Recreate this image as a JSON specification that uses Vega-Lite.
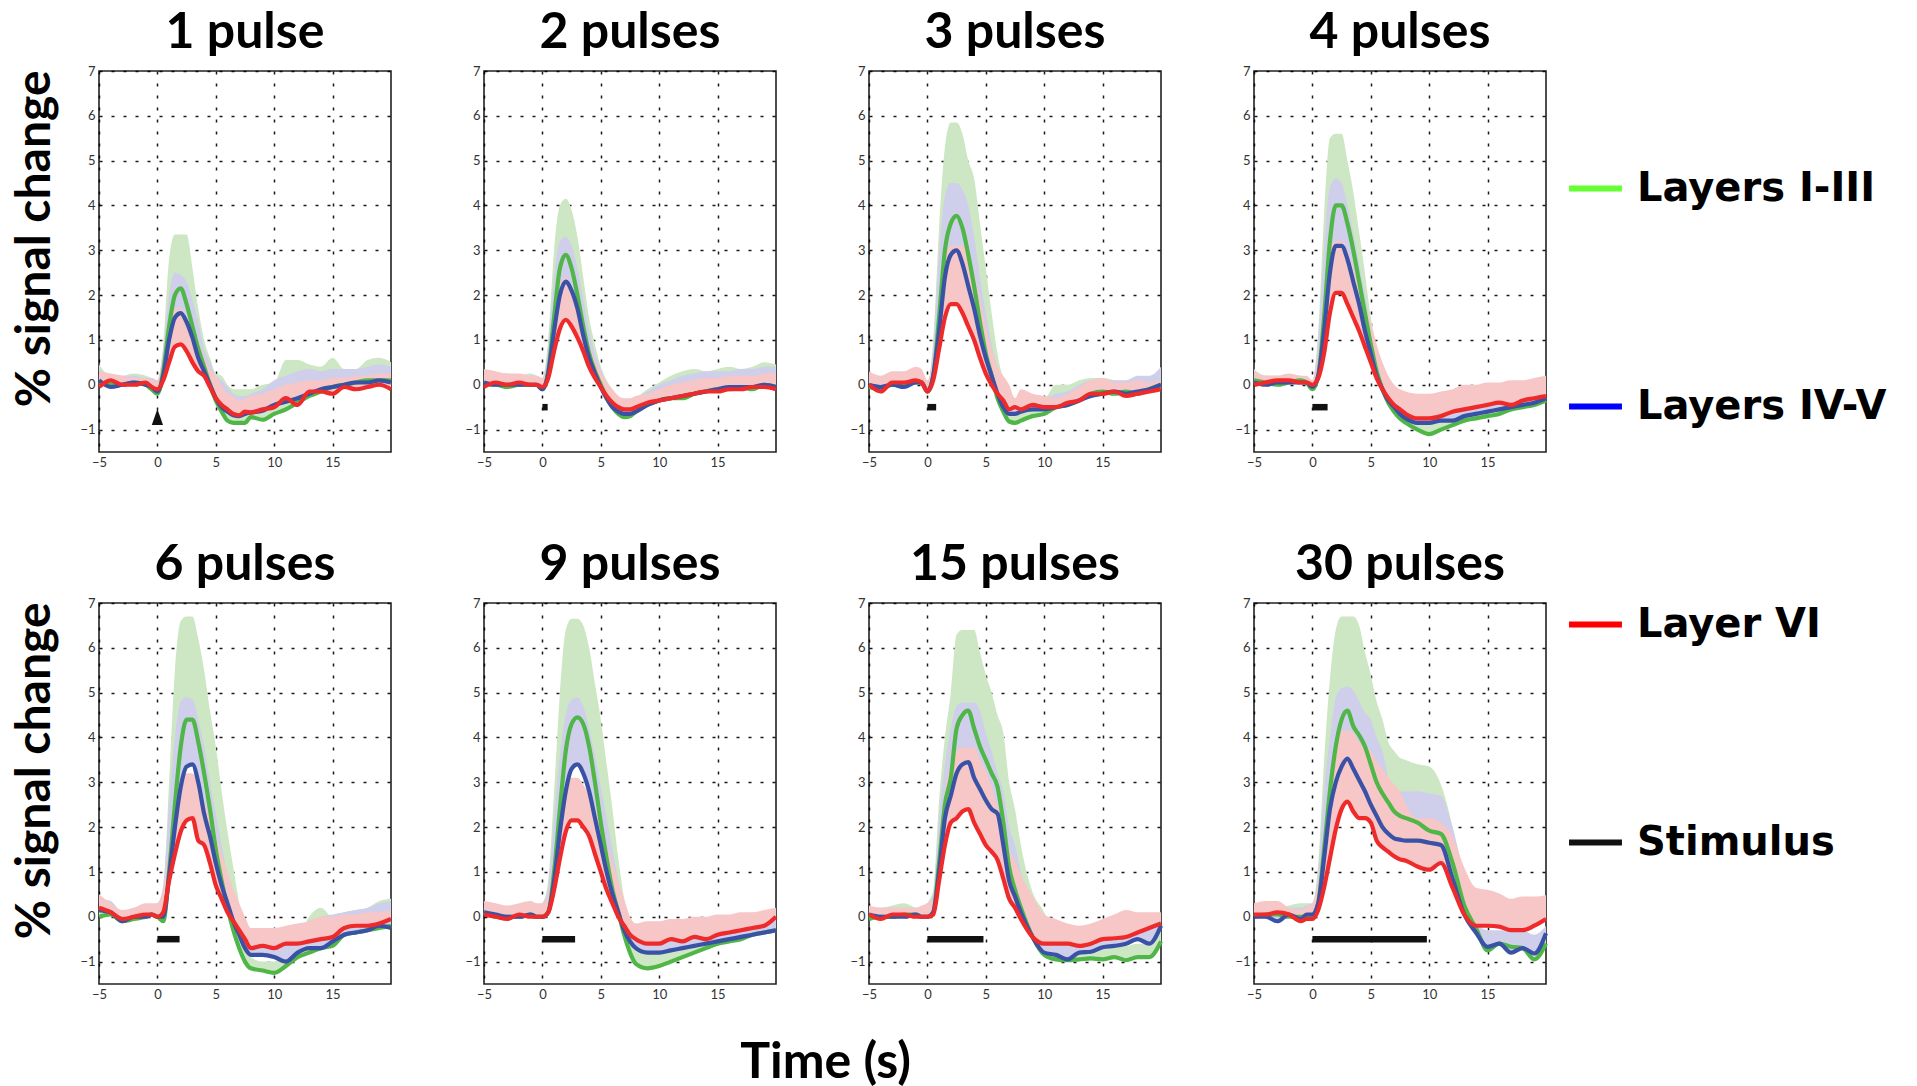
{
  "$schema": "https://vega.github.io/schema/vega-lite/v6.json",
  "background": "white",
  "padding": {"left": 12, "top": 8, "right": 0, "bottom": 0},
  "title": {"text": "Time (s)", "orient": "bottom", "anchor": "middle", "font": "Lato", "fontSize": 50, "fontWeight": "bold", "color": "black", "offset": 36, "dx": -124},
  "datasets": {
    "curves": [
      {"p":"1 pulse","t":-5,"g":0.05,"b":0.1,"r":-0.05,"gh":0.45,"bh":0.35,"rh":0.3},
      {"p":"1 pulse","t":-4,"g":0.0,"b":-0.05,"r":0.1,"gh":0.2,"bh":0.2,"rh":0.25},
      {"p":"1 pulse","t":-3,"g":0.0,"b":0.0,"r":0.0,"gh":0.2,"bh":0.2,"rh":0.2},
      {"p":"1 pulse","t":-2,"g":0.05,"b":0.05,"r":0.0,"gh":0.25,"bh":0.2,"rh":0.15},
      {"p":"1 pulse","t":-1,"g":0.0,"b":0.0,"r":0.05,"gh":0.2,"bh":0.15,"rh":0.15},
      {"p":"1 pulse","t":-0.5,"g":-0.1,"b":-0.05,"r":-0.05,"gh":0.15,"bh":0.15,"rh":0.1},
      {"p":"1 pulse","t":0,"g":-0.2,"b":-0.15,"r":-0.1,"gh":0.1,"bh":0.1,"rh":0.1},
      {"p":"1 pulse","t":0.5,"g":0.3,"b":0.2,"r":0.1,"gh":0.9,"bh":0.8,"rh":0.6},
      {"p":"1 pulse","t":1,"g":1.3,"b":1.0,"r":0.5,"gh":2.8,"bh":2.0,"rh":1.3},
      {"p":"1 pulse","t":1.5,"g":2.0,"b":1.5,"r":0.85,"gh":3.35,"bh":2.5,"rh":1.7},
      {"p":"1 pulse","t":2,"g":2.15,"b":1.6,"r":0.9,"gh":3.35,"bh":2.45,"rh":1.7},
      {"p":"1 pulse","t":2.5,"g":1.8,"b":1.4,"r":0.75,"gh":3.35,"bh":2.3,"rh":1.5},
      {"p":"1 pulse","t":3,"g":1.3,"b":1.05,"r":0.5,"gh":2.6,"bh":1.9,"rh":1.2},
      {"p":"1 pulse","t":3.5,"g":0.8,"b":0.6,"r":0.3,"gh":1.7,"bh":1.4,"rh":0.95},
      {"p":"1 pulse","t":4,"g":0.4,"b":0.3,"r":0.2,"gh":1.0,"bh":0.8,"rh":0.6},
      {"p":"1 pulse","t":4.5,"g":0.0,"b":0.0,"r":-0.05,"gh":0.6,"bh":0.5,"rh":0.35},
      {"p":"1 pulse","t":5,"g":-0.35,"b":-0.3,"r":-0.3,"gh":0.25,"bh":0.2,"rh":0.2},
      {"p":"1 pulse","t":5.5,"g":-0.6,"b":-0.5,"r":-0.45,"gh":0.2,"bh":0.1,"rh":0.0},
      {"p":"1 pulse","t":6,"g":-0.8,"b":-0.6,"r":-0.55,"gh":0.0,"bh":-0.05,"rh":-0.2},
      {"p":"1 pulse","t":6.5,"g":-0.85,"b":-0.68,"r":-0.65,"gh":-0.1,"bh":-0.2,"rh":-0.25},
      {"p":"1 pulse","t":7,"g":-0.85,"b":-0.7,"r":-0.68,"gh":-0.1,"bh":-0.25,"rh":-0.35},
      {"p":"1 pulse","t":7.5,"g":-0.85,"b":-0.65,"r":-0.6,"gh":-0.1,"bh":-0.25,"rh":-0.3},
      {"p":"1 pulse","t":8,"g":-0.72,"b":-0.62,"r":-0.62,"gh":-0.1,"bh":-0.2,"rh":-0.25},
      {"p":"1 pulse","t":9,"g":-0.78,"b":-0.58,"r":-0.55,"gh":0.0,"bh":-0.1,"rh":-0.2},
      {"p":"1 pulse","t":10,"g":-0.65,"b":-0.45,"r":-0.5,"gh":0.05,"bh":0.1,"rh":-0.1},
      {"p":"1 pulse","t":11,"g":-0.55,"b":-0.38,"r":-0.3,"gh":0.55,"bh":0.2,"rh":0.0},
      {"p":"1 pulse","t":12,"g":-0.4,"b":-0.3,"r":-0.45,"gh":0.55,"bh":0.3,"rh":0.05},
      {"p":"1 pulse","t":13,"g":-0.25,"b":-0.2,"r":-0.15,"gh":0.45,"bh":0.35,"rh":0.1},
      {"p":"1 pulse","t":14,"g":-0.15,"b":-0.1,"r":-0.15,"gh":0.4,"bh":0.3,"rh":0.1},
      {"p":"1 pulse","t":15,"g":-0.05,"b":-0.05,"r":-0.2,"gh":0.6,"bh":0.35,"rh":0.15},
      {"p":"1 pulse","t":16,"g":0.0,"b":0.0,"r":-0.05,"gh":0.35,"bh":0.35,"rh":0.15},
      {"p":"1 pulse","t":17,"g":0.05,"b":0.05,"r":-0.1,"gh":0.35,"bh":0.35,"rh":0.2},
      {"p":"1 pulse","t":18,"g":0.1,"b":0.05,"r":-0.05,"gh":0.55,"bh":0.4,"rh":0.2},
      {"p":"1 pulse","t":19,"g":0.1,"b":0.1,"r":0.0,"gh":0.6,"bh":0.45,"rh":0.25},
      {"p":"1 pulse","t":20,"g":0.1,"b":0.05,"r":-0.1,"gh":0.5,"bh":0.4,"rh":0.25},

      {"p":"2 pulses","t":-5,"g":0.0,"b":0.05,"r":-0.05,"gh":0.3,"bh":0.3,"rh":0.35},
      {"p":"2 pulses","t":-4,"g":0.0,"b":0.0,"r":0.05,"gh":0.25,"bh":0.25,"rh":0.3},
      {"p":"2 pulses","t":-3,"g":-0.05,"b":0.0,"r":0.0,"gh":0.2,"bh":0.25,"rh":0.25},
      {"p":"2 pulses","t":-2,"g":0.0,"b":0.0,"r":0.05,"gh":0.2,"bh":0.2,"rh":0.25},
      {"p":"2 pulses","t":-1,"g":0.0,"b":0.0,"r":0.0,"gh":0.25,"bh":0.2,"rh":0.2},
      {"p":"2 pulses","t":-0.5,"g":0.0,"b":0.0,"r":0.0,"gh":0.2,"bh":0.2,"rh":0.2},
      {"p":"2 pulses","t":0,"g":-0.1,"b":-0.1,"r":-0.05,"gh":0.15,"bh":0.15,"rh":0.15},
      {"p":"2 pulses","t":0.5,"g":0.3,"b":0.25,"r":0.15,"gh":1.0,"bh":0.9,"rh":0.6},
      {"p":"2 pulses","t":1,"g":1.5,"b":1.2,"r":0.75,"gh":3.0,"bh":2.4,"rh":1.6},
      {"p":"2 pulses","t":1.5,"g":2.6,"b":2.0,"r":1.25,"gh":4.0,"bh":3.2,"rh":2.2},
      {"p":"2 pulses","t":2,"g":2.9,"b":2.3,"r":1.45,"gh":4.15,"bh":3.3,"rh":2.4},
      {"p":"2 pulses","t":2.5,"g":2.6,"b":2.1,"r":1.3,"gh":3.9,"bh":3.1,"rh":2.2},
      {"p":"2 pulses","t":3,"g":2.0,"b":1.7,"r":1.05,"gh":3.3,"bh":2.6,"rh":1.8},
      {"p":"2 pulses","t":3.5,"g":1.3,"b":1.1,"r":0.75,"gh":2.4,"bh":1.9,"rh":1.4},
      {"p":"2 pulses","t":4,"g":0.7,"b":0.6,"r":0.4,"gh":1.5,"bh":1.2,"rh":0.9},
      {"p":"2 pulses","t":4.5,"g":0.3,"b":0.25,"r":0.15,"gh":0.9,"bh":0.7,"rh":0.55},
      {"p":"2 pulses","t":5,"g":0.0,"b":-0.05,"r":-0.05,"gh":0.4,"bh":0.35,"rh":0.3},
      {"p":"2 pulses","t":5.5,"g":-0.3,"b":-0.3,"r":-0.25,"gh":0.1,"bh":0.05,"rh":0.05},
      {"p":"2 pulses","t":6,"g":-0.5,"b":-0.5,"r":-0.4,"gh":-0.1,"bh":-0.15,"rh":-0.1},
      {"p":"2 pulses","t":6.5,"g":-0.65,"b":-0.6,"r":-0.5,"gh":-0.25,"bh":-0.3,"rh":-0.25},
      {"p":"2 pulses","t":7,"g":-0.72,"b":-0.65,"r":-0.55,"gh":-0.35,"bh":-0.35,"rh":-0.3},
      {"p":"2 pulses","t":7.5,"g":-0.7,"b":-0.65,"r":-0.55,"gh":-0.4,"bh":-0.35,"rh":-0.3},
      {"p":"2 pulses","t":8,"g":-0.6,"b":-0.6,"r":-0.5,"gh":-0.3,"bh":-0.3,"rh":-0.25},
      {"p":"2 pulses","t":9,"g":-0.45,"b":-0.45,"r":-0.4,"gh":-0.1,"bh":-0.15,"rh":-0.2},
      {"p":"2 pulses","t":10,"g":-0.35,"b":-0.35,"r":-0.35,"gh":0.05,"bh":0.0,"rh":-0.1},
      {"p":"2 pulses","t":11,"g":-0.3,"b":-0.3,"r":-0.3,"gh":0.2,"bh":0.1,"rh":0.0},
      {"p":"2 pulses","t":12,"g":-0.3,"b":-0.25,"r":-0.25,"gh":0.3,"bh":0.2,"rh":0.05},
      {"p":"2 pulses","t":13,"g":-0.2,"b":-0.2,"r":-0.2,"gh":0.35,"bh":0.25,"rh":0.1},
      {"p":"2 pulses","t":14,"g":-0.15,"b":-0.15,"r":-0.15,"gh":0.3,"bh":0.3,"rh":0.15},
      {"p":"2 pulses","t":15,"g":-0.1,"b":-0.1,"r":-0.15,"gh":0.35,"bh":0.3,"rh":0.15},
      {"p":"2 pulses","t":16,"g":-0.1,"b":-0.05,"r":-0.1,"gh":0.4,"bh":0.3,"rh":0.2},
      {"p":"2 pulses","t":17,"g":-0.05,"b":-0.05,"r":-0.1,"gh":0.35,"bh":0.35,"rh":0.2},
      {"p":"2 pulses","t":18,"g":-0.1,"b":-0.05,"r":-0.05,"gh":0.4,"bh":0.35,"rh":0.2},
      {"p":"2 pulses","t":19,"g":0.0,"b":0.0,"r":-0.05,"gh":0.5,"bh":0.4,"rh":0.25},
      {"p":"2 pulses","t":20,"g":-0.05,"b":-0.05,"r":-0.1,"gh":0.45,"bh":0.4,"rh":0.25},

      {"p":"3 pulses","t":-5,"g":-0.05,"b":0.0,"r":0.0,"gh":0.2,"bh":0.2,"rh":0.3},
      {"p":"3 pulses","t":-4,"g":-0.1,"b":-0.05,"r":-0.15,"gh":0.15,"bh":0.15,"rh":0.2},
      {"p":"3 pulses","t":-3,"g":0.0,"b":0.0,"r":0.05,"gh":0.2,"bh":0.2,"rh":0.3},
      {"p":"3 pulses","t":-2,"g":0.0,"b":-0.05,"r":0.05,"gh":0.2,"bh":0.2,"rh":0.3},
      {"p":"3 pulses","t":-1,"g":0.05,"b":0.05,"r":0.1,"gh":0.2,"bh":0.2,"rh":0.4},
      {"p":"3 pulses","t":-0.5,"g":0.05,"b":0.05,"r":0.05,"gh":0.15,"bh":0.15,"rh":0.35},
      {"p":"3 pulses","t":0,"g":-0.15,"b":-0.15,"r":-0.15,"gh":0.0,"bh":0.0,"rh":0.1},
      {"p":"3 pulses","t":0.5,"g":0.2,"b":0.2,"r":0.1,"gh":1.0,"bh":0.9,"rh":0.6},
      {"p":"3 pulses","t":1,"g":1.5,"b":1.2,"r":0.8,"gh":3.5,"bh":2.9,"rh":1.9},
      {"p":"3 pulses","t":1.5,"g":3.0,"b":2.4,"r":1.5,"gh":5.3,"bh":4.2,"rh":2.8},
      {"p":"3 pulses","t":2,"g":3.6,"b":2.9,"r":1.8,"gh":5.85,"bh":4.5,"rh":3.1},
      {"p":"3 pulses","t":2.5,"g":3.77,"b":3.0,"r":1.8,"gh":5.85,"bh":4.5,"rh":3.1},
      {"p":"3 pulses","t":3,"g":3.5,"b":2.7,"r":1.6,"gh":5.6,"bh":4.35,"rh":3.1},
      {"p":"3 pulses","t":3.5,"g":2.9,"b":2.2,"r":1.3,"gh":5.0,"bh":4.0,"rh":3.0},
      {"p":"3 pulses","t":4,"g":2.2,"b":1.7,"r":1.0,"gh":4.6,"bh":3.3,"rh":2.5},
      {"p":"3 pulses","t":4.5,"g":1.4,"b":1.1,"r":0.6,"gh":3.6,"bh":2.4,"rh":1.9},
      {"p":"3 pulses","t":5,"g":0.7,"b":0.6,"r":0.25,"gh":2.6,"bh":1.6,"rh":1.3},
      {"p":"3 pulses","t":5.5,"g":0.2,"b":0.2,"r":0.0,"gh":1.6,"bh":0.9,"rh":0.8},
      {"p":"3 pulses","t":6,"g":-0.3,"b":-0.2,"r":-0.2,"gh":0.7,"bh":0.4,"rh":0.4},
      {"p":"3 pulses","t":6.5,"g":-0.6,"b":-0.5,"r":-0.35,"gh":0.1,"bh":0.0,"rh":0.2},
      {"p":"3 pulses","t":7,"g":-0.82,"b":-0.65,"r":-0.55,"gh":-0.3,"bh":-0.2,"rh":0.0},
      {"p":"3 pulses","t":7.5,"g":-0.85,"b":-0.65,"r":-0.5,"gh":-0.4,"bh":-0.3,"rh":-0.3},
      {"p":"3 pulses","t":8,"g":-0.8,"b":-0.6,"r":-0.55,"gh":-0.35,"bh":-0.3,"rh":-0.1},
      {"p":"3 pulses","t":9,"g":-0.7,"b":-0.55,"r":-0.45,"gh":-0.3,"bh":-0.25,"rh":-0.2},
      {"p":"3 pulses","t":10,"g":-0.65,"b":-0.55,"r":-0.5,"gh":-0.3,"bh":-0.3,"rh":-0.25},
      {"p":"3 pulses","t":11,"g":-0.5,"b":-0.5,"r":-0.5,"gh":0.0,"bh":-0.2,"rh":-0.3},
      {"p":"3 pulses","t":12,"g":-0.45,"b":-0.45,"r":-0.4,"gh":0.0,"bh":-0.15,"rh":-0.2},
      {"p":"3 pulses","t":13,"g":-0.35,"b":-0.35,"r":-0.35,"gh":0.1,"bh":0.0,"rh":-0.05},
      {"p":"3 pulses","t":14,"g":-0.2,"b":-0.25,"r":-0.2,"gh":0.15,"bh":0.1,"rh":0.1},
      {"p":"3 pulses","t":15,"g":-0.15,"b":-0.2,"r":-0.2,"gh":0.15,"bh":0.1,"rh":0.15},
      {"p":"3 pulses","t":16,"g":-0.2,"b":-0.15,"r":-0.15,"gh":0.1,"bh":0.1,"rh":0.05},
      {"p":"3 pulses","t":17,"g":-0.15,"b":-0.2,"r":-0.25,"gh":0.05,"bh":0.1,"rh":0.05},
      {"p":"3 pulses","t":18,"g":-0.2,"b":-0.15,"r":-0.2,"gh":0.05,"bh":0.2,"rh":0.1},
      {"p":"3 pulses","t":19,"g":-0.1,"b":-0.1,"r":-0.15,"gh":0.05,"bh":0.2,"rh":0.05},
      {"p":"3 pulses","t":20,"g":0.0,"b":0.0,"r":-0.1,"gh":0.15,"bh":0.4,"rh":0.1},

      {"p":"4 pulses","t":-5,"g":0.1,"b":0.05,"r":0.0,"gh":0.35,"bh":0.3,"rh":0.3},
      {"p":"4 pulses","t":-4,"g":0.05,"b":0.0,"r":0.05,"gh":0.2,"bh":0.2,"rh":0.2},
      {"p":"4 pulses","t":-3,"g":0.0,"b":0.05,"r":0.1,"gh":0.2,"bh":0.2,"rh":0.2},
      {"p":"4 pulses","t":-2,"g":0.05,"b":0.05,"r":0.1,"gh":0.2,"bh":0.2,"rh":0.25},
      {"p":"4 pulses","t":-1,"g":0.1,"b":0.05,"r":0.05,"gh":0.2,"bh":0.2,"rh":0.2},
      {"p":"4 pulses","t":-0.5,"g":0.05,"b":0.05,"r":0.05,"gh":0.15,"bh":0.15,"rh":0.2},
      {"p":"4 pulses","t":0,"g":-0.1,"b":-0.05,"r":0.0,"gh":0.1,"bh":0.1,"rh":0.1},
      {"p":"4 pulses","t":0.5,"g":0.2,"b":0.2,"r":0.15,"gh":1.2,"bh":1.0,"rh":0.7},
      {"p":"4 pulses","t":1,"g":1.5,"b":1.2,"r":0.7,"gh":3.8,"bh":3.0,"rh":2.0},
      {"p":"4 pulses","t":1.5,"g":3.2,"b":2.5,"r":1.6,"gh":5.5,"bh":4.4,"rh":3.0},
      {"p":"4 pulses","t":2,"g":4.0,"b":3.1,"r":2.05,"gh":5.6,"bh":4.6,"rh":3.2},
      {"p":"4 pulses","t":2.5,"g":4.0,"b":3.1,"r":2.05,"gh":5.6,"bh":4.5,"rh":3.2},
      {"p":"4 pulses","t":3,"g":3.6,"b":2.8,"r":1.8,"gh":5.0,"bh":4.0,"rh":3.0},
      {"p":"4 pulses","t":3.5,"g":3.0,"b":2.3,"r":1.5,"gh":4.3,"bh":3.4,"rh":2.6},
      {"p":"4 pulses","t":4,"g":2.3,"b":1.8,"r":1.2,"gh":3.4,"bh":2.7,"rh":2.2},
      {"p":"4 pulses","t":4.5,"g":1.6,"b":1.2,"r":0.85,"gh":2.5,"bh":2.0,"rh":1.8},
      {"p":"4 pulses","t":5,"g":0.9,"b":0.7,"r":0.5,"gh":1.5,"bh":1.3,"rh":1.4},
      {"p":"4 pulses","t":5.5,"g":0.3,"b":0.2,"r":0.15,"gh":0.8,"bh":0.7,"rh":0.9},
      {"p":"4 pulses","t":6,"g":-0.1,"b":-0.1,"r":-0.1,"gh":0.3,"bh":0.2,"rh":0.5},
      {"p":"4 pulses","t":6.5,"g":-0.4,"b":-0.35,"r":-0.3,"gh":0.0,"bh":-0.1,"rh":0.2},
      {"p":"4 pulses","t":7,"g":-0.6,"b":-0.5,"r":-0.45,"gh":-0.2,"bh":-0.25,"rh":0.0},
      {"p":"4 pulses","t":7.5,"g":-0.75,"b":-0.65,"r":-0.55,"gh":-0.35,"bh":-0.35,"rh":-0.1},
      {"p":"4 pulses","t":8,"g":-0.85,"b":-0.75,"r":-0.65,"gh":-0.5,"bh":-0.4,"rh":-0.15},
      {"p":"4 pulses","t":9,"g":-1.0,"b":-0.85,"r":-0.75,"gh":-0.6,"bh":-0.45,"rh":-0.2},
      {"p":"4 pulses","t":10,"g":-1.1,"b":-0.85,"r":-0.75,"gh":-0.6,"bh":-0.45,"rh":-0.2},
      {"p":"4 pulses","t":11,"g":-1.0,"b":-0.8,"r":-0.7,"gh":-0.5,"bh":-0.4,"rh":-0.15},
      {"p":"4 pulses","t":12,"g":-0.9,"b":-0.8,"r":-0.6,"gh":-0.4,"bh":-0.3,"rh":-0.1},
      {"p":"4 pulses","t":13,"g":-0.8,"b":-0.7,"r":-0.55,"gh":-0.35,"bh":-0.25,"rh":0.0},
      {"p":"4 pulses","t":14,"g":-0.75,"b":-0.65,"r":-0.5,"gh":-0.25,"bh":-0.2,"rh":0.0},
      {"p":"4 pulses","t":15,"g":-0.7,"b":-0.6,"r":-0.45,"gh":-0.2,"bh":-0.15,"rh":0.05},
      {"p":"4 pulses","t":16,"g":-0.65,"b":-0.55,"r":-0.4,"gh":-0.2,"bh":-0.1,"rh":0.05},
      {"p":"4 pulses","t":17,"g":-0.55,"b":-0.5,"r":-0.45,"gh":-0.1,"bh":-0.05,"rh":0.1},
      {"p":"4 pulses","t":18,"g":-0.5,"b":-0.45,"r":-0.35,"gh":-0.05,"bh":0.0,"rh":0.1},
      {"p":"4 pulses","t":19,"g":-0.45,"b":-0.4,"r":-0.3,"gh":0.0,"bh":0.0,"rh":0.15},
      {"p":"4 pulses","t":20,"g":-0.35,"b":-0.3,"r":-0.25,"gh":0.05,"bh":0.05,"rh":0.2},

      {"p":"6 pulses","t":-5,"g":0.0,"b":0.15,"r":0.2,"gh":0.45,"bh":0.4,"rh":0.5},
      {"p":"6 pulses","t":-4,"g":0.05,"b":0.1,"r":0.1,"gh":0.3,"bh":0.35,"rh":0.3},
      {"p":"6 pulses","t":-3,"g":-0.1,"b":-0.1,"r":-0.05,"gh":0.1,"bh":0.1,"rh":0.15},
      {"p":"6 pulses","t":-2,"g":-0.05,"b":0.0,"r":0.0,"gh":0.2,"bh":0.15,"rh":0.2},
      {"p":"6 pulses","t":-1,"g":0.0,"b":0.0,"r":0.05,"gh":0.2,"bh":0.2,"rh":0.3},
      {"p":"6 pulses","t":-0.5,"g":0.05,"b":0.05,"r":0.05,"gh":0.25,"bh":0.25,"rh":0.3},
      {"p":"6 pulses","t":0,"g":0.0,"b":0.0,"r":0.0,"gh":0.3,"bh":0.3,"rh":0.3},
      {"p":"6 pulses","t":0.5,"g":-0.1,"b":0.0,"r":0.1,"gh":0.6,"bh":0.7,"rh":0.6},
      {"p":"6 pulses","t":1,"g":1.0,"b":0.9,"r":0.8,"gh":3.0,"bh":2.5,"rh":1.6},
      {"p":"6 pulses","t":1.5,"g":2.5,"b":2.0,"r":1.4,"gh":5.5,"bh":4.0,"rh":2.5},
      {"p":"6 pulses","t":2,"g":3.8,"b":2.9,"r":1.9,"gh":6.6,"bh":4.8,"rh":3.0},
      {"p":"6 pulses","t":2.5,"g":4.4,"b":3.35,"r":2.15,"gh":6.7,"bh":4.9,"rh":3.2},
      {"p":"6 pulses","t":3,"g":4.4,"b":3.4,"r":2.2,"gh":6.7,"bh":4.85,"rh":3.2},
      {"p":"6 pulses","t":3.5,"g":3.9,"b":3.0,"r":1.7,"gh":6.2,"bh":4.4,"rh":2.9},
      {"p":"6 pulses","t":4,"g":3.2,"b":2.3,"r":1.6,"gh":5.5,"bh":3.8,"rh":2.6},
      {"p":"6 pulses","t":4.5,"g":2.4,"b":1.8,"r":1.2,"gh":4.6,"bh":3.0,"rh":2.2},
      {"p":"6 pulses","t":5,"g":1.5,"b":1.2,"r":0.7,"gh":3.8,"bh":2.3,"rh":1.8},
      {"p":"6 pulses","t":5.5,"g":0.8,"b":0.7,"r":0.4,"gh":2.8,"bh":1.6,"rh":1.4},
      {"p":"6 pulses","t":6,"g":0.2,"b":0.3,"r":0.1,"gh":1.9,"bh":0.9,"rh":1.0},
      {"p":"6 pulses","t":6.5,"g":-0.3,"b":-0.1,"r":-0.1,"gh":1.1,"bh":0.4,"rh":0.6},
      {"p":"6 pulses","t":7,"g":-0.7,"b":-0.4,"r":-0.3,"gh":0.3,"bh":0.0,"rh":0.3},
      {"p":"6 pulses","t":7.5,"g":-1.0,"b":-0.7,"r":-0.5,"gh":-0.4,"bh":-0.3,"rh":0.0},
      {"p":"6 pulses","t":8,"g":-1.15,"b":-0.85,"r":-0.7,"gh":-0.9,"bh":-0.5,"rh":-0.25},
      {"p":"6 pulses","t":9,"g":-1.2,"b":-0.85,"r":-0.65,"gh":-1.0,"bh":-0.6,"rh":-0.25},
      {"p":"6 pulses","t":10,"g":-1.25,"b":-0.9,"r":-0.7,"gh":-1.0,"bh":-0.55,"rh":-0.25},
      {"p":"6 pulses","t":11,"g":-1.1,"b":-1.0,"r":-0.6,"gh":-0.8,"bh":-0.45,"rh":-0.2},
      {"p":"6 pulses","t":12,"g":-0.9,"b":-0.8,"r":-0.6,"gh":-0.5,"bh":-0.3,"rh":-0.15},
      {"p":"6 pulses","t":13,"g":-0.8,"b":-0.7,"r":-0.55,"gh":0.0,"bh":-0.1,"rh":-0.1},
      {"p":"6 pulses","t":14,"g":-0.7,"b":-0.7,"r":-0.5,"gh":0.2,"bh":0.0,"rh":0.0},
      {"p":"6 pulses","t":15,"g":-0.65,"b":-0.55,"r":-0.45,"gh":0.0,"bh":0.05,"rh":0.0},
      {"p":"6 pulses","t":16,"g":-0.4,"b":-0.4,"r":-0.25,"gh":0.1,"bh":0.1,"rh":0.05},
      {"p":"6 pulses","t":17,"g":-0.35,"b":-0.35,"r":-0.2,"gh":0.15,"bh":0.15,"rh":0.05},
      {"p":"6 pulses","t":18,"g":-0.3,"b":-0.3,"r":-0.2,"gh":0.2,"bh":0.2,"rh":0.1},
      {"p":"6 pulses","t":19,"g":-0.25,"b":-0.2,"r":-0.15,"gh":0.35,"bh":0.3,"rh":0.1},
      {"p":"6 pulses","t":20,"g":-0.2,"b":-0.25,"r":-0.05,"gh":0.4,"bh":0.35,"rh":0.15},

      {"p":"9 pulses","t":-5,"g":0.1,"b":0.1,"r":0.05,"gh":0.3,"bh":0.3,"rh":0.35},
      {"p":"9 pulses","t":-4,"g":0.0,"b":0.05,"r":0.0,"gh":0.2,"bh":0.25,"rh":0.3},
      {"p":"9 pulses","t":-3,"g":0.0,"b":0.0,"r":-0.05,"gh":0.15,"bh":0.2,"rh":0.25},
      {"p":"9 pulses","t":-2,"g":0.0,"b":0.0,"r":0.05,"gh":0.2,"bh":0.2,"rh":0.3},
      {"p":"9 pulses","t":-1,"g":0.05,"b":0.05,"r":0.0,"gh":0.25,"bh":0.25,"rh":0.35},
      {"p":"9 pulses","t":-0.5,"g":0.0,"b":0.0,"r":0.0,"gh":0.2,"bh":0.2,"rh":0.3},
      {"p":"9 pulses","t":0,"g":0.0,"b":0.0,"r":0.0,"gh":0.3,"bh":0.3,"rh":0.3},
      {"p":"9 pulses","t":0.5,"g":0.1,"b":0.1,"r":0.1,"gh":0.8,"bh":0.7,"rh":0.5},
      {"p":"9 pulses","t":1,"g":1.0,"b":0.8,"r":0.6,"gh":2.8,"bh":2.2,"rh":1.4},
      {"p":"9 pulses","t":1.5,"g":2.4,"b":1.9,"r":1.3,"gh":5.0,"bh":3.6,"rh":2.3},
      {"p":"9 pulses","t":2,"g":3.7,"b":2.8,"r":1.9,"gh":6.4,"bh":4.5,"rh":2.9},
      {"p":"9 pulses","t":2.5,"g":4.3,"b":3.3,"r":2.15,"gh":6.65,"bh":4.85,"rh":3.1},
      {"p":"9 pulses","t":3,"g":4.45,"b":3.4,"r":2.15,"gh":6.65,"bh":4.9,"rh":3.1},
      {"p":"9 pulses","t":3.5,"g":4.3,"b":3.2,"r":2.0,"gh":6.5,"bh":4.7,"rh":2.95},
      {"p":"9 pulses","t":4,"g":3.8,"b":2.8,"r":1.8,"gh":6.0,"bh":4.2,"rh":2.7},
      {"p":"9 pulses","t":4.5,"g":3.0,"b":2.2,"r":1.4,"gh":5.2,"bh":3.6,"rh":2.4},
      {"p":"9 pulses","t":5,"g":2.1,"b":1.6,"r":1.0,"gh":4.4,"bh":2.9,"rh":2.0},
      {"p":"9 pulses","t":5.5,"g":1.3,"b":1.0,"r":0.6,"gh":3.4,"bh":2.2,"rh":1.6},
      {"p":"9 pulses","t":6,"g":0.6,"b":0.5,"r":0.3,"gh":2.4,"bh":1.5,"rh":1.2},
      {"p":"9 pulses","t":6.5,"g":0.1,"b":0.1,"r":0.0,"gh":1.3,"bh":0.8,"rh":0.8},
      {"p":"9 pulses","t":7,"g":-0.4,"b":-0.3,"r":-0.2,"gh":0.4,"bh":0.2,"rh":0.4},
      {"p":"9 pulses","t":7.5,"g":-0.8,"b":-0.55,"r":-0.4,"gh":-0.2,"bh":-0.2,"rh":0.0},
      {"p":"9 pulses","t":8,"g":-1.05,"b":-0.7,"r":-0.5,"gh":-0.5,"bh":-0.35,"rh":-0.15},
      {"p":"9 pulses","t":9,"g":-1.15,"b":-0.8,"r":-0.6,"gh":-0.6,"bh":-0.4,"rh":-0.1},
      {"p":"9 pulses","t":10,"g":-1.1,"b":-0.8,"r":-0.6,"gh":-0.6,"bh":-0.4,"rh":-0.1},
      {"p":"9 pulses","t":11,"g":-1.0,"b":-0.75,"r":-0.5,"gh":-0.5,"bh":-0.35,"rh":-0.05},
      {"p":"9 pulses","t":12,"g":-0.9,"b":-0.7,"r":-0.55,"gh":-0.4,"bh":-0.3,"rh":-0.05},
      {"p":"9 pulses","t":13,"g":-0.8,"b":-0.65,"r":-0.45,"gh":-0.3,"bh":-0.25,"rh":0.0},
      {"p":"9 pulses","t":14,"g":-0.7,"b":-0.6,"r":-0.5,"gh":-0.2,"bh":-0.2,"rh":0.0},
      {"p":"9 pulses","t":15,"g":-0.6,"b":-0.55,"r":-0.4,"gh":-0.15,"bh":-0.15,"rh":0.05},
      {"p":"9 pulses","t":16,"g":-0.55,"b":-0.5,"r":-0.35,"gh":-0.1,"bh":-0.1,"rh":0.05},
      {"p":"9 pulses","t":17,"g":-0.5,"b":-0.45,"r":-0.3,"gh":-0.1,"bh":-0.1,"rh":0.1},
      {"p":"9 pulses","t":18,"g":-0.4,"b":-0.4,"r":-0.25,"gh":0.0,"bh":-0.05,"rh":0.1},
      {"p":"9 pulses","t":19,"g":-0.35,"b":-0.35,"r":-0.2,"gh":0.0,"bh":0.0,"rh":0.15},
      {"p":"9 pulses","t":20,"g":-0.3,"b":-0.3,"r":0.0,"gh":0.0,"bh":0.05,"rh":0.2},

      {"p":"15 pulses","t":-5,"g":-0.05,"b":0.05,"r":0.05,"gh":0.2,"bh":0.2,"rh":0.25},
      {"p":"15 pulses","t":-4,"g":0.0,"b":0.0,"r":-0.05,"gh":0.2,"bh":0.2,"rh":0.2},
      {"p":"15 pulses","t":-3,"g":0.0,"b":0.0,"r":0.05,"gh":0.25,"bh":0.2,"rh":0.2},
      {"p":"15 pulses","t":-2,"g":0.05,"b":0.0,"r":0.05,"gh":0.3,"bh":0.2,"rh":0.2},
      {"p":"15 pulses","t":-1,"g":0.05,"b":0.05,"r":0.0,"gh":0.2,"bh":0.2,"rh":0.2},
      {"p":"15 pulses","t":-0.5,"g":0.0,"b":0.0,"r":0.0,"gh":0.15,"bh":0.2,"rh":0.25},
      {"p":"15 pulses","t":0,"g":0.0,"b":0.0,"r":0.0,"gh":0.3,"bh":0.3,"rh":0.3},
      {"p":"15 pulses","t":0.5,"g":0.1,"b":0.1,"r":0.05,"gh":0.6,"bh":0.5,"rh":0.4},
      {"p":"15 pulses","t":1,"g":1.2,"b":1.0,"r":0.8,"gh":2.6,"bh":2.2,"rh":1.7},
      {"p":"15 pulses","t":1.5,"g":2.5,"b":2.2,"r":1.6,"gh":4.0,"bh":3.4,"rh":2.8},
      {"p":"15 pulses","t":2,"g":3.1,"b":2.7,"r":2.1,"gh":5.0,"bh":4.2,"rh":3.4},
      {"p":"15 pulses","t":2.5,"g":4.2,"b":3.2,"r":2.2,"gh":6.3,"bh":4.7,"rh":3.7},
      {"p":"15 pulses","t":3,"g":4.5,"b":3.4,"r":2.35,"gh":6.4,"bh":4.78,"rh":3.77},
      {"p":"15 pulses","t":3.5,"g":4.6,"b":3.45,"r":2.4,"gh":6.4,"bh":4.78,"rh":3.77},
      {"p":"15 pulses","t":4,"g":4.2,"b":3.1,"r":2.1,"gh":6.4,"bh":4.78,"rh":3.77},
      {"p":"15 pulses","t":4.5,"g":3.8,"b":2.85,"r":1.85,"gh":5.9,"bh":4.6,"rh":3.5},
      {"p":"15 pulses","t":5,"g":3.5,"b":2.6,"r":1.6,"gh":5.4,"bh":4.1,"rh":3.25},
      {"p":"15 pulses","t":5.5,"g":3.2,"b":2.4,"r":1.45,"gh":5.0,"bh":3.7,"rh":2.9},
      {"p":"15 pulses","t":6,"g":2.9,"b":2.3,"r":1.27,"gh":4.5,"bh":3.2,"rh":2.45},
      {"p":"15 pulses","t":6.5,"g":2.1,"b":1.6,"r":0.85,"gh":4.1,"bh":2.8,"rh":2.1},
      {"p":"15 pulses","t":7,"g":1.1,"b":0.8,"r":0.4,"gh":3.0,"bh":2.0,"rh":1.5},
      {"p":"15 pulses","t":7.5,"g":0.6,"b":0.45,"r":0.2,"gh":2.4,"bh":1.6,"rh":1.25},
      {"p":"15 pulses","t":8,"g":0.2,"b":0.1,"r":-0.05,"gh":1.6,"bh":1.0,"rh":0.95},
      {"p":"15 pulses","t":9,"g":-0.45,"b":-0.45,"r":-0.45,"gh":0.55,"bh":0.3,"rh":0.45},
      {"p":"15 pulses","t":10,"g":-0.85,"b":-0.8,"r":-0.6,"gh":0.1,"bh":-0.15,"rh":0.05},
      {"p":"15 pulses","t":11,"g":-0.95,"b":-0.85,"r":-0.6,"gh":-0.5,"bh":-0.4,"rh":-0.05},
      {"p":"15 pulses","t":12,"g":-0.97,"b":-0.95,"r":-0.6,"gh":-0.6,"bh":-0.3,"rh":-0.15},
      {"p":"15 pulses","t":13,"g":-0.95,"b":-0.8,"r":-0.65,"gh":-0.6,"bh":-0.3,"rh":-0.2},
      {"p":"15 pulses","t":14,"g":-0.93,"b":-0.78,"r":-0.6,"gh":-0.6,"bh":-0.3,"rh":-0.15},
      {"p":"15 pulses","t":15,"g":-0.95,"b":-0.68,"r":-0.5,"gh":-0.6,"bh":-0.3,"rh":-0.05},
      {"p":"15 pulses","t":16,"g":-0.9,"b":-0.65,"r":-0.48,"gh":-0.6,"bh":-0.25,"rh":0.05},
      {"p":"15 pulses","t":17,"g":-0.97,"b":-0.6,"r":-0.45,"gh":-0.65,"bh":-0.2,"rh":0.15},
      {"p":"15 pulses","t":18,"g":-0.9,"b":-0.5,"r":-0.35,"gh":-0.6,"bh":-0.15,"rh":0.1},
      {"p":"15 pulses","t":19,"g":-0.9,"b":-0.6,"r":-0.25,"gh":-0.6,"bh":-0.1,"rh":0.1},
      {"p":"15 pulses","t":20,"g":-0.55,"b":-0.2,"r":-0.15,"gh":-0.3,"bh":0.0,"rh":0.1},

      {"p":"30 pulses","t":-5,"g":0.0,"b":0.0,"r":0.05,"gh":0.25,"bh":0.2,"rh":0.3},
      {"p":"30 pulses","t":-4,"g":0.05,"b":0.0,"r":0.05,"gh":0.2,"bh":0.25,"rh":0.35},
      {"p":"30 pulses","t":-3,"g":0.05,"b":-0.1,"r":0.1,"gh":0.2,"bh":0.25,"rh":0.35},
      {"p":"30 pulses","t":-2,"g":0.0,"b":0.05,"r":0.05,"gh":0.25,"bh":0.2,"rh":0.2},
      {"p":"30 pulses","t":-1,"g":0.0,"b":-0.05,"r":-0.1,"gh":0.3,"bh":0.2,"rh":0.15},
      {"p":"30 pulses","t":-0.5,"g":0.0,"b":0.05,"r":-0.05,"gh":0.3,"bh":0.25,"rh":0.2},
      {"p":"30 pulses","t":0,"g":0.0,"b":0.05,"r":-0.05,"gh":0.3,"bh":0.3,"rh":0.3},
      {"p":"30 pulses","t":0.5,"g":0.3,"b":0.3,"r":0.15,"gh":1.2,"bh":1.0,"rh":0.8},
      {"p":"30 pulses","t":1,"g":1.5,"b":1.3,"r":0.65,"gh":3.5,"bh":2.8,"rh":1.9},
      {"p":"30 pulses","t":1.5,"g":2.8,"b":2.4,"r":1.3,"gh":5.3,"bh":4.0,"rh":2.9},
      {"p":"30 pulses","t":2,"g":3.8,"b":3.0,"r":1.95,"gh":6.4,"bh":4.9,"rh":3.7},
      {"p":"30 pulses","t":2.5,"g":4.4,"b":3.35,"r":2.4,"gh":6.7,"bh":5.1,"rh":4.15},
      {"p":"30 pulses","t":3,"g":4.6,"b":3.53,"r":2.57,"gh":6.7,"bh":5.13,"rh":4.15},
      {"p":"30 pulses","t":3.5,"g":4.25,"b":3.3,"r":2.35,"gh":6.7,"bh":5.05,"rh":4.1},
      {"p":"30 pulses","t":4,"g":4.05,"b":3.05,"r":2.2,"gh":6.5,"bh":4.8,"rh":3.9},
      {"p":"30 pulses","t":4.5,"g":3.8,"b":2.8,"r":2.2,"gh":5.9,"bh":4.55,"rh":3.75},
      {"p":"30 pulses","t":5,"g":3.4,"b":2.5,"r":2.1,"gh":5.4,"bh":4.4,"rh":3.7},
      {"p":"30 pulses","t":5.5,"g":3.0,"b":2.25,"r":1.7,"gh":4.8,"bh":4.0,"rh":3.45},
      {"p":"30 pulses","t":6,"g":2.75,"b":2.0,"r":1.55,"gh":4.4,"bh":3.7,"rh":3.3},
      {"p":"30 pulses","t":6.5,"g":2.55,"b":1.85,"r":1.45,"gh":3.9,"bh":3.1,"rh":3.1},
      {"p":"30 pulses","t":7,"g":2.35,"b":1.75,"r":1.35,"gh":3.7,"bh":2.8,"rh":2.95},
      {"p":"30 pulses","t":7.5,"g":2.25,"b":1.72,"r":1.28,"gh":3.55,"bh":2.8,"rh":2.8},
      {"p":"30 pulses","t":8,"g":2.2,"b":1.7,"r":1.25,"gh":3.5,"bh":2.8,"rh":2.5},
      {"p":"30 pulses","t":9,"g":2.1,"b":1.7,"r":1.12,"gh":3.4,"bh":2.8,"rh":2.2},
      {"p":"30 pulses","t":10,"g":1.92,"b":1.65,"r":1.05,"gh":3.35,"bh":2.75,"rh":2.2},
      {"p":"30 pulses","t":11,"g":1.85,"b":1.6,"r":1.2,"gh":2.95,"bh":2.7,"rh":2.1},
      {"p":"30 pulses","t":12,"g":1.2,"b":0.85,"r":0.65,"gh":2.0,"bh":2.0,"rh":1.8},
      {"p":"30 pulses","t":13,"g":0.25,"b":0.05,"r":0.05,"gh":0.6,"bh":0.9,"rh":1.1},
      {"p":"30 pulses","t":14,"g":-0.25,"b":-0.35,"r":-0.2,"gh":-0.1,"bh":-0.1,"rh":0.65},
      {"p":"30 pulses","t":15,"g":-0.75,"b":-0.67,"r":-0.2,"gh":-0.4,"bh":-0.3,"rh":0.6},
      {"p":"30 pulses","t":16,"g":-0.6,"b":-0.6,"r":-0.22,"gh":-0.4,"bh":-0.3,"rh":0.52},
      {"p":"30 pulses","t":17,"g":-0.67,"b":-0.8,"r":-0.3,"gh":-0.4,"bh":-0.3,"rh":0.4},
      {"p":"30 pulses","t":18,"g":-0.7,"b":-0.7,"r":-0.3,"gh":-0.45,"bh":-0.3,"rh":0.45},
      {"p":"30 pulses","t":19,"g":-0.95,"b":-0.82,"r":-0.2,"gh":-0.6,"bh":-0.4,"rh":0.45},
      {"p":"30 pulses","t":20,"g":-0.6,"b":-0.37,"r":-0.05,"gh":-0.3,"bh":-0.2,"rh":0.48},

      {"p":"1 pulse","arrow":0},
      {"p":"2 pulses","s0":0,"s1":0.45},
      {"p":"3 pulses","s0":0,"s1":0.75},
      {"p":"4 pulses","s0":0,"s1":1.3},
      {"p":"6 pulses","s0":0,"s1":1.9},
      {"p":"9 pulses","s0":0,"s1":2.8},
      {"p":"15 pulses","s0":0,"s1":4.8},
      {"p":"30 pulses","s0":0,"s1":9.8}
    ]
  },
  "vconcat": [
    {
      "data": {"name": "curves"},
      "transform": [{"filter": {"field": "p", "oneOf": ["1 pulse", "2 pulses", "3 pulses", "4 pulses"]}}],
      "title": {"text": "% signal change", "orient": "left", "anchor": "middle", "font": "Lato", "fontSize": 48, "fontWeight": "bold", "color": "black", "offset": 19},
      "facet": {"column": {"field": "p", "type": "nominal", "sort": ["1 pulse", "2 pulses", "3 pulses", "4 pulses"],
        "header": {"title": null, "labelFont": "Lato", "labelFontSize": 50, "labelFontWeight": "bold", "labelColor": "black", "labelPadding": 6}}},
      "spacing": 70,
      "resolve": {"axis": {"x": "independent", "y": "independent"}},
      "spec": {
        "width": 292, "height": 381,
        "layer": [
          {"transform": [{"filter": "isValid(datum.t)"}],
           "mark": {"type": "area", "interpolate": "monotone", "color": "#cde6c3", "opacity": 1},
           "encoding": {
             "x": {"field": "t", "type": "quantitative", "scale": {"domain": [-5, 20], "nice": false, "zero": false}, "axis": {"values": [-5, 0, 5, 10, 15], "title": null}},
             "y": {"field": "g", "type": "quantitative", "scale": {"domain": [-1.5, 7], "nice": false, "zero": false}, "axis": {"values": [-1, 0, 1, 2, 3, 4, 5, 6, 7], "title": null}},
             "y2": {"field": "gh"}}},
          {"transform": [{"filter": "isValid(datum.t)"}],
           "mark": {"type": "area", "interpolate": "monotone", "color": "#cfcfeb", "opacity": 1},
           "encoding": {
             "x": {"field": "t", "type": "quantitative", "scale": {"domain": [-5, 20], "nice": false, "zero": false}, "axis": {"values": [-5, 0, 5, 10, 15], "title": null}},
             "y": {"field": "b", "type": "quantitative", "scale": {"domain": [-1.5, 7], "nice": false, "zero": false}, "axis": {"values": [-1, 0, 1, 2, 3, 4, 5, 6, 7], "title": null}},
             "y2": {"field": "bh"}}},
          {"transform": [{"filter": "isValid(datum.t)"}],
           "mark": {"type": "area", "interpolate": "monotone", "color": "#f7c6c7", "opacity": 1},
           "encoding": {
             "x": {"field": "t", "type": "quantitative", "scale": {"domain": [-5, 20], "nice": false, "zero": false}, "axis": {"values": [-5, 0, 5, 10, 15], "title": null}},
             "y": {"field": "r", "type": "quantitative", "scale": {"domain": [-1.5, 7], "nice": false, "zero": false}, "axis": {"values": [-1, 0, 1, 2, 3, 4, 5, 6, 7], "title": null}},
             "y2": {"field": "rh"}}},
          {"transform": [{"filter": "isValid(datum.t)"}],
           "mark": {"type": "line", "interpolate": "monotone", "strokeWidth": 4.2, "strokeJoin": "round", "color": "#4fb647"},
           "encoding": {
             "x": {"field": "t", "type": "quantitative", "scale": {"domain": [-5, 20], "nice": false, "zero": false}, "axis": {"values": [-5, 0, 5, 10, 15], "title": null}},
             "y": {"field": "g", "type": "quantitative", "scale": {"domain": [-1.5, 7], "nice": false, "zero": false}, "axis": {"values": [-1, 0, 1, 2, 3, 4, 5, 6, 7], "title": null}}}},
          {"transform": [{"filter": "isValid(datum.t)"}],
           "mark": {"type": "line", "interpolate": "monotone", "strokeWidth": 4.2, "strokeJoin": "round", "color": "#3a52a6"},
           "encoding": {
             "x": {"field": "t", "type": "quantitative", "scale": {"domain": [-5, 20], "nice": false, "zero": false}, "axis": {"values": [-5, 0, 5, 10, 15], "title": null}},
             "y": {"field": "b", "type": "quantitative", "scale": {"domain": [-1.5, 7], "nice": false, "zero": false}, "axis": {"values": [-1, 0, 1, 2, 3, 4, 5, 6, 7], "title": null}}}},
          {"transform": [{"filter": "isValid(datum.t)"}],
           "mark": {"type": "line", "interpolate": "monotone", "strokeWidth": 4.2, "strokeJoin": "round", "color": "#ee2a2a"},
           "encoding": {
             "x": {"field": "t", "type": "quantitative", "scale": {"domain": [-5, 20], "nice": false, "zero": false}, "axis": {"values": [-5, 0, 5, 10, 15], "title": null}},
             "y": {"field": "r", "type": "quantitative", "scale": {"domain": [-1.5, 7], "nice": false, "zero": false}, "axis": {"values": [-1, 0, 1, 2, 3, 4, 5, 6, 7], "title": null}}}},
          {"transform": [{"filter": "isValid(datum.s1)"}],
           "mark": {"type": "rule", "strokeWidth": 6.5, "strokeCap": "butt"},
           "encoding": {
             "x": {"field": "s0", "type": "quantitative", "scale": {"domain": [-5, 20], "nice": false, "zero": false}, "axis": {"values": [-5, 0, 5, 10, 15], "title": null}},
             "x2": {"field": "s1"},
             "y": {"datum": -0.5, "type": "quantitative", "scale": {"domain": [-1.5, 7], "nice": false, "zero": false}, "axis": {"values": [-1, 0, 1, 2, 3, 4, 5, 6, 7], "title": null}},
             "color": {"datum": "Stimulus", "type": "nominal",
               "scale": {"domain": ["Layers I-III", "Layers IV-V", "Layer VI", "Stimulus"], "range": ["#66ff33", "#0000ff", "#ff0000", "#111111"]},
               "legend": {"orient": "none", "legendX": 1467, "legendY": 88, "title": null, "padding": 0}}}},
          {"transform": [{"filter": "isValid(datum.arrow)"}],
           "mark": {"type": "point", "shape": "M0,-1L0.7,1L-0.7,1Z", "filled": true, "color": "#111111", "opacity": 1, "size": 256},
           "encoding": {
             "x": {"field": "arrow", "type": "quantitative", "scale": {"domain": [-5, 20], "nice": false, "zero": false}, "axis": {"values": [-5, 0, 5, 10, 15], "title": null}},
             "y": {"datum": -0.72, "type": "quantitative", "scale": {"domain": [-1.5, 7], "nice": false, "zero": false}, "axis": {"values": [-1, 0, 1, 2, 3, 4, 5, 6, 7], "title": null}}}}
        ]
      }
    },
    {
      "data": {"name": "curves"},
      "transform": [{"filter": {"field": "p", "oneOf": ["6 pulses", "9 pulses", "15 pulses", "30 pulses"]}}],
      "title": {"text": "% signal change", "orient": "left", "anchor": "middle", "font": "Lato", "fontSize": 48, "fontWeight": "bold", "color": "black", "offset": 19},
      "facet": {"column": {"field": "p", "type": "nominal", "sort": ["6 pulses", "9 pulses", "15 pulses", "30 pulses"],
        "header": {"title": null, "labelFont": "Lato", "labelFontSize": 50, "labelFontWeight": "bold", "labelColor": "black", "labelPadding": 6}}},
      "spacing": 70,
      "resolve": {"axis": {"x": "independent", "y": "independent"}},
      "spec": {
        "width": 292, "height": 381,
        "layer": [
          {"transform": [{"filter": "isValid(datum.t)"}],
           "mark": {"type": "area", "interpolate": "monotone", "color": "#cde6c3", "opacity": 1},
           "encoding": {
             "x": {"field": "t", "type": "quantitative", "scale": {"domain": [-5, 20], "nice": false, "zero": false}, "axis": {"values": [-5, 0, 5, 10, 15], "title": null}},
             "y": {"field": "g", "type": "quantitative", "scale": {"domain": [-1.5, 7], "nice": false, "zero": false}, "axis": {"values": [-1, 0, 1, 2, 3, 4, 5, 6, 7], "title": null}},
             "y2": {"field": "gh"}}},
          {"transform": [{"filter": "isValid(datum.t)"}],
           "mark": {"type": "area", "interpolate": "monotone", "color": "#cfcfeb", "opacity": 1},
           "encoding": {
             "x": {"field": "t", "type": "quantitative", "scale": {"domain": [-5, 20], "nice": false, "zero": false}, "axis": {"values": [-5, 0, 5, 10, 15], "title": null}},
             "y": {"field": "b", "type": "quantitative", "scale": {"domain": [-1.5, 7], "nice": false, "zero": false}, "axis": {"values": [-1, 0, 1, 2, 3, 4, 5, 6, 7], "title": null}},
             "y2": {"field": "bh"}}},
          {"transform": [{"filter": "isValid(datum.t)"}],
           "mark": {"type": "area", "interpolate": "monotone", "color": "#f7c6c7", "opacity": 1},
           "encoding": {
             "x": {"field": "t", "type": "quantitative", "scale": {"domain": [-5, 20], "nice": false, "zero": false}, "axis": {"values": [-5, 0, 5, 10, 15], "title": null}},
             "y": {"field": "r", "type": "quantitative", "scale": {"domain": [-1.5, 7], "nice": false, "zero": false}, "axis": {"values": [-1, 0, 1, 2, 3, 4, 5, 6, 7], "title": null}},
             "y2": {"field": "rh"}}},
          {"transform": [{"filter": "isValid(datum.t)"}],
           "mark": {"type": "line", "interpolate": "monotone", "strokeWidth": 4.2, "strokeJoin": "round", "color": "#4fb647"},
           "encoding": {
             "x": {"field": "t", "type": "quantitative", "scale": {"domain": [-5, 20], "nice": false, "zero": false}, "axis": {"values": [-5, 0, 5, 10, 15], "title": null}},
             "y": {"field": "g", "type": "quantitative", "scale": {"domain": [-1.5, 7], "nice": false, "zero": false}, "axis": {"values": [-1, 0, 1, 2, 3, 4, 5, 6, 7], "title": null}}}},
          {"transform": [{"filter": "isValid(datum.t)"}],
           "mark": {"type": "line", "interpolate": "monotone", "strokeWidth": 4.2, "strokeJoin": "round", "color": "#3a52a6"},
           "encoding": {
             "x": {"field": "t", "type": "quantitative", "scale": {"domain": [-5, 20], "nice": false, "zero": false}, "axis": {"values": [-5, 0, 5, 10, 15], "title": null}},
             "y": {"field": "b", "type": "quantitative", "scale": {"domain": [-1.5, 7], "nice": false, "zero": false}, "axis": {"values": [-1, 0, 1, 2, 3, 4, 5, 6, 7], "title": null}}}},
          {"transform": [{"filter": "isValid(datum.t)"}],
           "mark": {"type": "line", "interpolate": "monotone", "strokeWidth": 4.2, "strokeJoin": "round", "color": "#ee2a2a"},
           "encoding": {
             "x": {"field": "t", "type": "quantitative", "scale": {"domain": [-5, 20], "nice": false, "zero": false}, "axis": {"values": [-5, 0, 5, 10, 15], "title": null}},
             "y": {"field": "r", "type": "quantitative", "scale": {"domain": [-1.5, 7], "nice": false, "zero": false}, "axis": {"values": [-1, 0, 1, 2, 3, 4, 5, 6, 7], "title": null}}}},
          {"transform": [{"filter": "isValid(datum.s1)"}],
           "mark": {"type": "rule", "strokeWidth": 6.5, "strokeCap": "butt"},
           "encoding": {
             "x": {"field": "s0", "type": "quantitative", "scale": {"domain": [-5, 20], "nice": false, "zero": false}, "axis": {"values": [-5, 0, 5, 10, 15], "title": null}},
             "x2": {"field": "s1"},
             "y": {"datum": -0.5, "type": "quantitative", "scale": {"domain": [-1.5, 7], "nice": false, "zero": false}, "axis": {"values": [-1, 0, 1, 2, 3, 4, 5, 6, 7], "title": null}},
             "color": {"datum": "Stimulus", "type": "nominal",
               "scale": {"domain": ["Layers I-III", "Layers IV-V", "Layer VI", "Stimulus"], "range": ["#66ff33", "#0000ff", "#ff0000", "#111111"]},
               "legend": {"orient": "none", "legendX": 1467, "legendY": 88, "title": null, "padding": 0}}}}
        ]
      }
    }
  ],
  "spacing": 70,
  "config": {
    "font": "Lato",
    "view": {"stroke": "#222222", "strokeWidth": 1.6},
    "axis": {"grid": true, "gridColor": "#000000", "gridDash": [3, 9], "gridWidth": 1.5, "gridOpacity": 0.9, "domain": false, "ticks": false, "labelFont": "Lato", "labelFontSize": 13, "labelColor": "#333333", "labelPadding": 4, "labelFlush": false, "labelOverlap": false},
    "legend": {"symbolType": "stroke", "symbolSize": 2800, "symbolStrokeWidth": 6, "symbolOpacity": 1, "labelFont": "DejaVu Sans", "labelFontSize": 40, "labelFontWeight": "bold", "labelColor": "#000000", "rowPadding": 168, "labelOffset": 12, "labelLimit": 400}
  }
}
